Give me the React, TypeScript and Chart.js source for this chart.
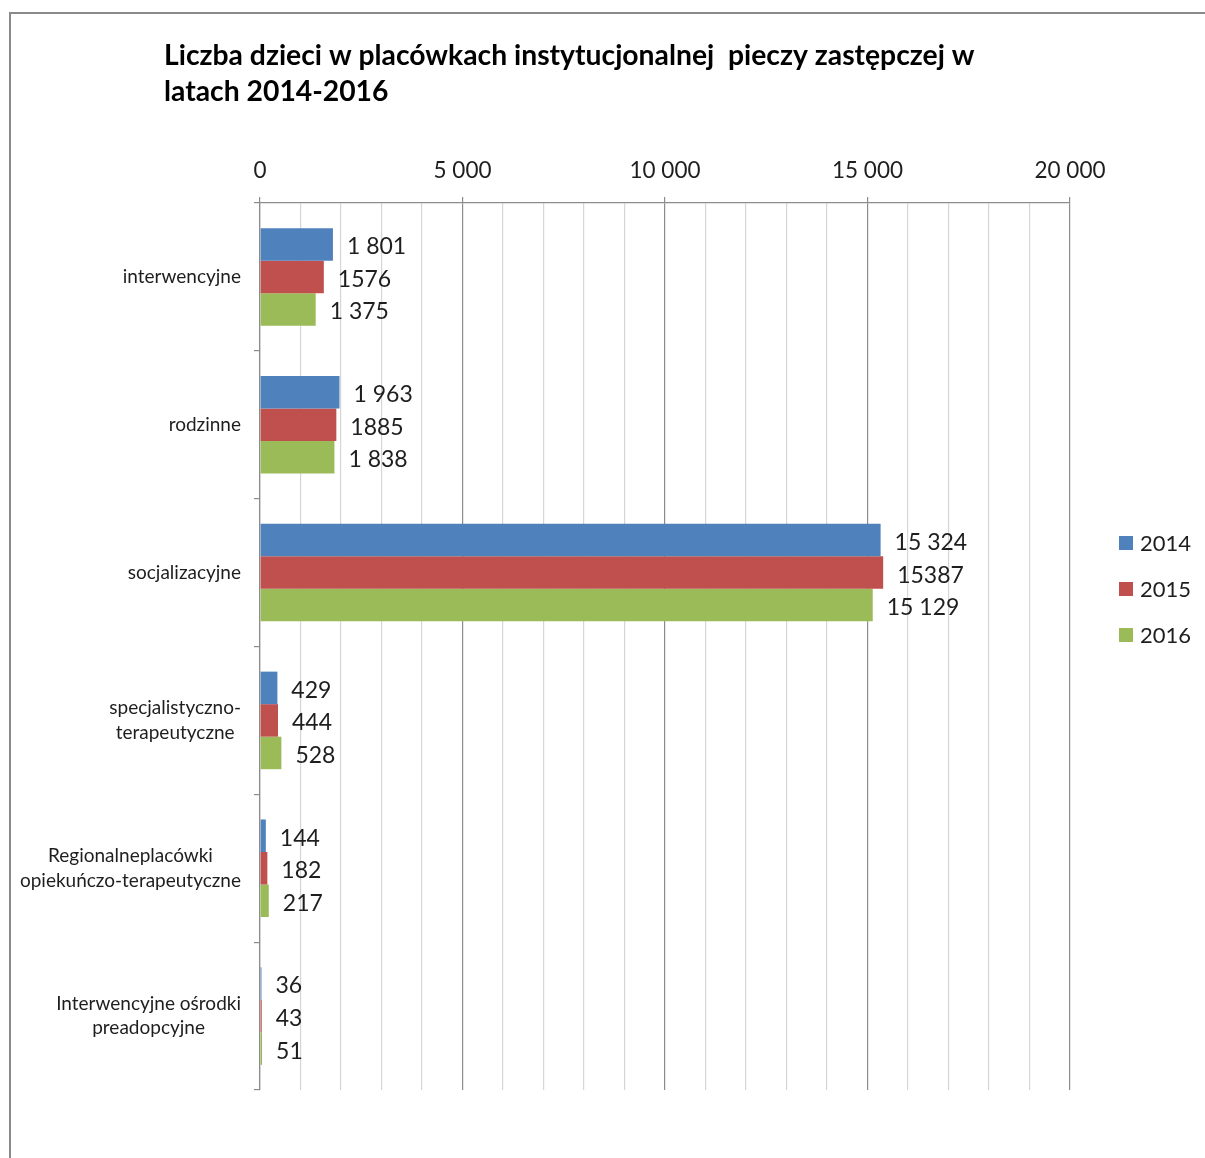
import React, { useEffect, useRef } from "react";
import { Chart, registerables } from "chart.js";

Chart.register(...registerables);

const titleLines = [
  "Liczba dzieci w placówkach instytucjonalnej  pieczy zastępczej w",
  "latach 2014-2016",
];

const categories: string[][] = [
  ["interwencyjne"],
  ["rodzinne"],
  ["socjalizacyjne"],
  ["specjalistyczno-", "terapeutyczne"],
  ["Regionalneplacówki", "opiekuńczo-terapeutyczne"],
  ["Interwencyjne ośrodki", "preadopcyjne"],
];

const seriesNames = ["2014", "2015", "2016"];
const values2014 = [1801, 1963, 15324, 429, 144, 36];
const values2015 = [1576, 1885, 15387, 444, 182, 43];
const values2016 = [1375, 1838, 15129, 528, 217, 51];

const labels2014 = ["1 801", "1 963", "15 324", "429", "144", "36"];
const labels2015 = ["1576", "1885", "15387", "444", "182", "43"];
const labels2016 = ["1 375", "1 838", "15 129", "528", "217", "51"];

const axisMin = 0;
const axisMax = 20000;
const gridStep = 1000;
const labelStep = 5000;

const colors = ["#4F81BD", "#C0504D", "#9BBB59"];
const FONT = "Lato";
const TEXT = "#1e1e1e";

function fmt(v: number): string {
  return String(v).replace(/\B(?=(\d{3})+(?!\d))/g, " ");
}

export default function App() {
  const ref = useRef<HTMLCanvasElement | null>(null);

  useEffect(() => {
    if (!ref.current) return;
    const valueLabels = [labels2014, labels2015, labels2016];

    const framePlugin = {
      id: "frame",
      beforeDraw(chart: any) {
        const ctx = chart.ctx;
        ctx.save();
        ctx.fillStyle = "#ffffff";
        ctx.fillRect(0, 0, chart.width, chart.height);
        ctx.strokeStyle = "#8a8a8a";
        ctx.lineWidth = 2;
        ctx.beginPath();
        ctx.moveTo(10, chart.height + 5);
        ctx.lineTo(10, 13);
        ctx.lineTo(chart.width + 5, 13);
        ctx.stroke();
        // title
        ctx.fillStyle = "#000000";
        ctx.font = `bold 28.3px ${FONT}`;
        ctx.textBaseline = "middle";
        ctx.textAlign = "left";
        ctx.fillText(titleLines[0], 164, 56);
        ctx.fillText(titleLines[1], 164, 92);
        ctx.restore();
      },
      afterDraw(chart: any) {
        const ctx = chart.ctx;
        ctx.save();
        // y category labels: lines centered with each other, block right aligned
        const yScale = chart.scales.y;
        ctx.font = `19px ${FONT}`;
        ctx.fillStyle = TEXT;
        ctx.textBaseline = "middle";
        ctx.textAlign = "center";
        const lh = 24.5;
        categories.forEach((lines, i) => {
          const cy = yScale.getPixelForTick(i);
          const w = Math.max(...lines.map((l) => ctx.measureText(l).width));
          const cx = yScale.right - 19 - w / 2;
          const y0 = cy - ((lines.length - 1) * lh) / 2;
          lines.forEach((l, j) => ctx.fillText(l, cx, y0 + j * lh));
        });
        // legend
        ctx.font = `22px ${FONT}`;
        ctx.textAlign = "left";
        chart.data.datasets.forEach((ds: any, i: number) => {
          const y = 543 + i * 46;
          ctx.fillStyle = ds.backgroundColor;
          ctx.fillRect(1119, y - 7, 14, 14);
          ctx.fillStyle = TEXT;
          ctx.fillText(ds.label, 1140, y + 1);
        });
        ctx.restore();
      },
      afterDatasetsDraw(chart: any) {
        const ctx = chart.ctx;
        ctx.save();
        ctx.font = `23px ${FONT}`;
        ctx.fillStyle = TEXT;
        ctx.textBaseline = "middle";
        ctx.textAlign = "left";
        chart.data.datasets.forEach((ds: any, di: number) => {
          const meta = chart.getDatasetMeta(di);
          meta.data.forEach((bar: any, i: number) => {
            ctx.fillText(valueLabels[di][i], bar.x + 14, bar.y + 2.5);
          });
        });
        ctx.restore();
      },
    };

    const chart = new Chart(ref.current, {
      type: "bar",
      data: {
        labels: categories.map((c) => c.join(" ")),
        datasets: [
          { label: seriesNames[0], data: values2014, backgroundColor: colors[0] },
          { label: seriesNames[1], data: values2015, backgroundColor: colors[1] },
          { label: seriesNames[2], data: values2016, backgroundColor: colors[2] },
        ],
      },
      options: {
        indexAxis: "y",
        responsive: false,
        animation: false,
        devicePixelRatio: 1,
        datasets: {
          bar: { categoryPercentage: 0.66, barPercentage: 1.0, borderWidth: 0 },
        },
        layout: { padding: { left: 0, top: 0, right: 135, bottom: 68 } },
        plugins: {
          legend: { display: false },
          title: { display: false },
          tooltip: { enabled: false },
        },
        scales: {
          x: {
            position: "top",
            min: axisMin,
            max: axisMax,
            afterFit(scale: any) {
              scale.height = 203;
            },
            afterBuildTicks(scale: any) {
              const t: any[] = [];
              for (let v = axisMin; v <= axisMax; v += gridStep) t.push({ value: v });
              scale.ticks = t;
            },
            ticks: {
              autoSkip: false,
              maxRotation: 0,
              padding: 13,
              color: TEXT,
              font: { family: FONT, size: 22.5 },
              callback: (v: any) => (Number(v) % labelStep === 0 ? fmt(Number(v)) : ""),
            },
            grid: {
              drawTicks: true,
              tickLength: 6,
              color: (c: any) =>
                c.tick && c.tick.value % labelStep === 0 ? "#8c8c8c" : "#d6d6d6",
              tickColor: (c: any) =>
                c.tick && c.tick.value % labelStep === 0 ? "#8c8c8c" : "rgba(0,0,0,0)",
              lineWidth: 1.2,
            },
            border: { display: true, color: "#8c8c8c", width: 1.2 },
          },
          y: {
            afterFit(scale: any) {
              scale.width = 260;
            },
            ticks: { display: false },
            grid: {
              offset: true,
              drawOnChartArea: false,
              drawTicks: true,
              tickLength: 6,
              color: "#8c8c8c",
              tickColor: "#8c8c8c",
              lineWidth: 1.2,
            },
            border: { display: true, color: "#8c8c8c", width: 1.2 },
          },
        },
      },
      plugins: [framePlugin],
    } as any);

    return () => chart.destroy();
  }, []);

  return (
    <div style={{ position: "absolute", left: 0, top: 0, width: 1205, height: 1158 }}>
      <canvas ref={ref} width={1205} height={1158} style={{ display: "block" }} />
    </div>
  );
}
